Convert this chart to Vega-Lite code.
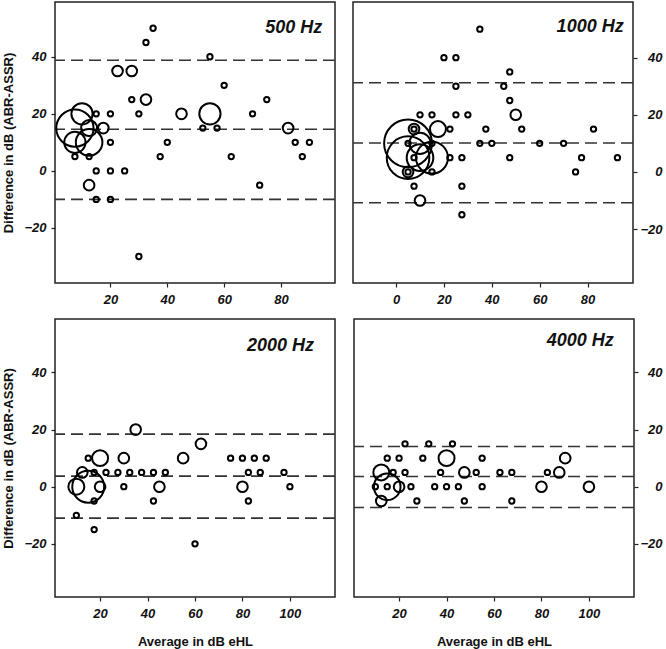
{
  "$schema": "https://vega.github.io/schema/vega-lite/v6.json",
  "padding": {"left": 2, "top": 1, "right": 2, "bottom": 2},
  "config": {
    "view": {"stroke": "#222", "strokeWidth": 1.5},
    "axis": {
      "labelFont": "Liberation Sans", "labelFontSize": 13, "labelFontWeight": "bold", "labelFontStyle": "italic", "labelColor": "#111",
      "tickColor": "#222", "tickSize": 4, "tickWidth": 1.2, "domain": false, "grid": false,
      "titleFont": "Liberation Sans", "titleFontSize": 13, "titleFontWeight": "bold", "titleColor": "#111"
    }
  },
  "datasets": {
    "pts": [
      {"p":"500","avg":35,"diff":50,"n":1},{"p":"500","avg":32.5,"diff":45,"n":1},{"p":"500","avg":55,"diff":40,"n":1},
      {"p":"500","avg":22.5,"diff":35,"n":2},{"p":"500","avg":27.5,"diff":35,"n":2},{"p":"500","avg":60,"diff":30,"n":1},
      {"p":"500","avg":27.5,"diff":25,"n":1},{"p":"500","avg":32.5,"diff":25,"n":2},{"p":"500","avg":75,"diff":25,"n":1},
      {"p":"500","avg":15,"diff":20,"n":1},{"p":"500","avg":20,"diff":20,"n":1},{"p":"500","avg":30,"diff":20,"n":1},
      {"p":"500","avg":45,"diff":20,"n":2},{"p":"500","avg":55,"diff":20,"n":4},{"p":"500","avg":70,"diff":20,"n":1},
      {"p":"500","avg":52.5,"diff":15,"n":1},{"p":"500","avg":57.5,"diff":15,"n":1},{"p":"500","avg":82.5,"diff":15,"n":2},
      {"p":"500","avg":20,"diff":10,"n":1},{"p":"500","avg":40,"diff":10,"n":1},{"p":"500","avg":85,"diff":10,"n":1},
      {"p":"500","avg":90,"diff":10,"n":1},{"p":"500","avg":7.5,"diff":5,"n":1},{"p":"500","avg":12.5,"diff":5,"n":1},
      {"p":"500","avg":37.5,"diff":5,"n":1},{"p":"500","avg":62.5,"diff":5,"n":1},{"p":"500","avg":87.5,"diff":5,"n":1},
      {"p":"500","avg":15,"diff":0,"n":1},{"p":"500","avg":20,"diff":0,"n":1},{"p":"500","avg":25,"diff":0,"n":1},
      {"p":"500","avg":12.5,"diff":-5,"n":2},{"p":"500","avg":72.5,"diff":-5,"n":1},{"p":"500","avg":15,"diff":-10,"n":1},
      {"p":"500","avg":20,"diff":-10,"n":1},{"p":"500","avg":30,"diff":-30,"n":1},
      {"p":"500","avg":7.5,"diff":15,"n":7},{"p":"500","avg":10,"diff":20,"n":4},{"p":"500","avg":7.5,"diff":10,"n":4},
      {"p":"500","avg":12.5,"diff":15,"n":3},{"p":"500","avg":12.5,"diff":10,"n":5},{"p":"500","avg":17.5,"diff":15,"n":2},

      {"p":"1000","avg":35,"diff":50,"n":1},{"p":"1000","avg":20,"diff":40,"n":1},{"p":"1000","avg":25,"diff":40,"n":1},
      {"p":"1000","avg":47.5,"diff":35,"n":1},{"p":"1000","avg":25,"diff":30,"n":1},{"p":"1000","avg":45,"diff":30,"n":1},
      {"p":"1000","avg":47.5,"diff":25,"n":1},{"p":"1000","avg":10,"diff":20,"n":1},{"p":"1000","avg":15,"diff":20,"n":1},
      {"p":"1000","avg":25,"diff":20,"n":1},{"p":"1000","avg":30,"diff":20,"n":1},{"p":"1000","avg":50,"diff":20,"n":2},
      {"p":"1000","avg":37.5,"diff":15,"n":1},{"p":"1000","avg":52.5,"diff":15,"n":1},{"p":"1000","avg":82.5,"diff":15,"n":1},
      {"p":"1000","avg":22.5,"diff":15,"n":1},{"p":"1000","avg":7.5,"diff":15,"n":1},{"p":"1000","avg":7.5,"diff":15,"n":2},
      {"p":"1000","avg":17.5,"diff":15,"n":3},{"p":"1000","avg":35,"diff":10,"n":1},{"p":"1000","avg":40,"diff":10,"n":1},
      {"p":"1000","avg":60,"diff":10,"n":1},{"p":"1000","avg":70,"diff":10,"n":1},{"p":"1000","avg":5,"diff":10,"n":1},
      {"p":"1000","avg":15,"diff":10,"n":1},{"p":"1000","avg":47.5,"diff":5,"n":1},{"p":"1000","avg":27.5,"diff":5,"n":1},
      {"p":"1000","avg":22.5,"diff":5,"n":1},{"p":"1000","avg":77.5,"diff":5,"n":1},{"p":"1000","avg":92.5,"diff":5,"n":1},
      {"p":"1000","avg":7.5,"diff":5,"n":1},{"p":"1000","avg":75,"diff":0,"n":1},{"p":"1000","avg":5,"diff":0,"n":1},
      {"p":"1000","avg":5,"diff":0,"n":2},{"p":"1000","avg":15,"diff":0,"n":1},{"p":"1000","avg":7.5,"diff":-5,"n":1},
      {"p":"1000","avg":27.5,"diff":-5,"n":1},{"p":"1000","avg":10,"diff":-10,"n":2},{"p":"1000","avg":27.5,"diff":-15,"n":1},
      {"p":"1000","avg":5,"diff":10,"n":9},{"p":"1000","avg":5,"diff":5,"n":8},{"p":"1000","avg":15,"diff":5,"n":6},
      {"p":"1000","avg":10,"diff":5,"n":5},{"p":"1000","avg":10,"diff":10,"n":4},

      {"p":"2000","avg":35,"diff":20,"n":2},{"p":"2000","avg":62.5,"diff":15,"n":2},{"p":"2000","avg":20,"diff":10,"n":3},
      {"p":"2000","avg":30,"diff":10,"n":2},{"p":"2000","avg":55,"diff":10,"n":2},{"p":"2000","avg":15,"diff":10,"n":1},
      {"p":"2000","avg":75,"diff":10,"n":1},{"p":"2000","avg":80,"diff":10,"n":1},{"p":"2000","avg":85,"diff":10,"n":1},
      {"p":"2000","avg":90,"diff":10,"n":1},{"p":"2000","avg":12.5,"diff":5,"n":2},{"p":"2000","avg":17.5,"diff":5,"n":1},
      {"p":"2000","avg":22.5,"diff":5,"n":1},{"p":"2000","avg":27.5,"diff":5,"n":1},{"p":"2000","avg":32.5,"diff":5,"n":1},
      {"p":"2000","avg":37.5,"diff":5,"n":1},{"p":"2000","avg":42.5,"diff":5,"n":1},{"p":"2000","avg":47.5,"diff":5,"n":1},
      {"p":"2000","avg":82.5,"diff":5,"n":1},{"p":"2000","avg":87.5,"diff":5,"n":1},{"p":"2000","avg":97.5,"diff":5,"n":1},
      {"p":"2000","avg":10,"diff":0,"n":3},{"p":"2000","avg":15,"diff":0,"n":6},{"p":"2000","avg":20,"diff":0,"n":2},
      {"p":"2000","avg":30,"diff":0,"n":1},{"p":"2000","avg":45,"diff":0,"n":2},{"p":"2000","avg":80,"diff":0,"n":2},
      {"p":"2000","avg":100,"diff":0,"n":1},{"p":"2000","avg":17.5,"diff":-5,"n":1},{"p":"2000","avg":42.5,"diff":-5,"n":1},
      {"p":"2000","avg":82.5,"diff":-5,"n":1},{"p":"2000","avg":10,"diff":-10,"n":1},{"p":"2000","avg":17.5,"diff":-15,"n":1},
      {"p":"2000","avg":60,"diff":-20,"n":1},

      {"p":"4000","avg":22.5,"diff":15,"n":1},{"p":"4000","avg":32.5,"diff":15,"n":1},{"p":"4000","avg":42.5,"diff":15,"n":1},
      {"p":"4000","avg":15,"diff":10,"n":1},{"p":"4000","avg":20,"diff":10,"n":1},{"p":"4000","avg":30,"diff":10,"n":1},
      {"p":"4000","avg":40,"diff":10,"n":3},{"p":"4000","avg":55,"diff":10,"n":1},{"p":"4000","avg":90,"diff":10,"n":2},
      {"p":"4000","avg":12.5,"diff":5,"n":3},{"p":"4000","avg":17.5,"diff":5,"n":1},{"p":"4000","avg":22.5,"diff":5,"n":1},
      {"p":"4000","avg":37.5,"diff":5,"n":1},{"p":"4000","avg":47.5,"diff":5,"n":2},{"p":"4000","avg":52.5,"diff":5,"n":1},
      {"p":"4000","avg":62.5,"diff":5,"n":1},{"p":"4000","avg":67.5,"diff":5,"n":1},{"p":"4000","avg":82.5,"diff":5,"n":1},
      {"p":"4000","avg":87.5,"diff":5,"n":2},{"p":"4000","avg":10,"diff":0,"n":1},{"p":"4000","avg":15,"diff":0,"n":5},
      {"p":"4000","avg":15,"diff":0,"n":1},{"p":"4000","avg":20,"diff":0,"n":2},{"p":"4000","avg":25,"diff":0,"n":1},
      {"p":"4000","avg":35,"diff":0,"n":1},{"p":"4000","avg":40,"diff":0,"n":1},{"p":"4000","avg":45,"diff":0,"n":1},
      {"p":"4000","avg":55,"diff":0,"n":1},{"p":"4000","avg":80,"diff":0,"n":2},{"p":"4000","avg":100,"diff":0,"n":2},
      {"p":"4000","avg":12.5,"diff":-5,"n":2},{"p":"4000","avg":27.5,"diff":-5,"n":1},{"p":"4000","avg":47.5,"diff":-5,"n":1},
      {"p":"4000","avg":67.5,"diff":-5,"n":1}
    ],
    "lims": [
      {"p":"500","diff":38.8},{"p":"500","diff":14.6},{"p":"500","diff":-10},
      {"p":"1000","diff":31.2},{"p":"1000","diff":10.1},{"p":"1000","diff":-10.8},
      {"p":"2000","diff":18.4},{"p":"2000","diff":3.7},{"p":"2000","diff":-11},
      {"p":"4000","diff":14.1},{"p":"4000","diff":3.6},{"p":"4000","diff":-7.3}
    ]
  },
  "spacing": 11,
  "vconcat": [
    {
      "spacing": 14,
      "hconcat": [
        {
          "width": 280, "height": 281,
          "layer": [
            {
              "data": {"name": "lims"},
              "transform": [{"filter": "datum.p == '500'"}],
              "mark": {"type": "rule", "color": "#333", "strokeWidth": 1.6, "strokeDash": [12, 6]},
              "encoding": {
                "y": {"field": "diff", "type": "quantitative", "scale": {"domain": [-39.3, 59.2], "nice": false, "zero": false},
                      "axis": {"orient": "left", "values": [-20, 0, 20, 40], "title": "Difference in dB (ABR-ASSR)", "labelPadding": 5, "titlePadding": 8}}
              }
            },
            {
              "data": {"name": "pts"},
              "transform": [{"filter": "datum.p == '500'"}],
              "mark": {"type": "point", "shape": "circle", "filled": false, "color": "#000", "opacity": 1, "strokeWidth": 2},
              "encoding": {
                "x": {"field": "avg", "type": "quantitative", "scale": {"domain": [0.5, 99], "nice": false, "zero": false},
                      "axis": {"values": [20, 40, 60, 80], "title": null, "labelPadding": 6}},
                "y": {"field": "diff", "type": "quantitative"},
                "size": {"field": "n", "type": "quantitative", "scale": {"type": "pow", "exponent": 2, "domain": [0, 10], "range": [0, 2830]}, "legend": null}
              }
            },
            {
              "data": {"values": [{"label": "500 Hz"}]},
              "mark": {"type": "text", "align": "right", "baseline": "alphabetic", "font": "Liberation Sans", "fontSize": 18, "fontWeight": "bold", "fontStyle": "italic", "color": "#111"},
              "encoding": {"text": {"field": "label"}, "x": {"datum": 94.5, "type": "quantitative"}, "y": {"datum": 48.3, "type": "quantitative"}}
            }
          ]
        },
        {
          "width": 280, "height": 281,
          "layer": [
            {
              "data": {"name": "lims"},
              "transform": [{"filter": "datum.p == '1000'"}],
              "mark": {"type": "rule", "color": "#333", "strokeWidth": 1.6, "strokeDash": [12, 6]},
              "encoding": {
                "y": {"field": "diff", "type": "quantitative", "scale": {"domain": [-38.9, 59.5], "nice": false, "zero": false},
                      "axis": {"orient": "right", "values": [-20, 0, 20, 40], "title": null, "labelAlign": "right", "labelPadding": 25}}
              }
            },
            {
              "data": {"name": "pts"},
              "transform": [{"filter": "datum.p == '1000'"}],
              "mark": {"type": "point", "shape": "circle", "filled": false, "color": "#000", "opacity": 1, "strokeWidth": 2},
              "encoding": {
                "x": {"field": "avg", "type": "quantitative", "scale": {"domain": [-18, 99], "nice": false, "zero": false},
                      "axis": {"values": [0, 20, 40, 60, 80], "title": null, "labelPadding": 6}},
                "y": {"field": "diff", "type": "quantitative"},
                "size": {"field": "n", "type": "quantitative", "scale": {"type": "pow", "exponent": 2, "domain": [0, 10], "range": [0, 2830]}, "legend": null}
              }
            },
            {
              "data": {"values": [{"label": "1000 Hz"}]},
              "mark": {"type": "text", "align": "right", "baseline": "alphabetic", "font": "Liberation Sans", "fontSize": 18, "fontWeight": "bold", "fontStyle": "italic", "color": "#111"},
              "encoding": {"text": {"field": "label"}, "x": {"datum": 95.1, "type": "quantitative"}, "y": {"datum": 49, "type": "quantitative"}}
            }
          ]
        }
      ]
    },
    {
      "spacing": 15,
      "hconcat": [
        {
          "width": 280, "height": 278,
          "layer": [
            {
              "data": {"name": "lims"},
              "transform": [{"filter": "datum.p == '2000'"}],
              "mark": {"type": "rule", "color": "#333", "strokeWidth": 1.6, "strokeDash": [12, 6]},
              "encoding": {
                "y": {"field": "diff", "type": "quantitative", "scale": {"domain": [-38.6, 58.7], "nice": false, "zero": false},
                      "axis": {"orient": "left", "values": [-20, 0, 20, 40], "title": "Difference in dB (ABR-ASSR)", "labelPadding": 5, "titlePadding": 8}}
              }
            },
            {
              "data": {"name": "pts"},
              "transform": [{"filter": "datum.p == '2000'"}],
              "mark": {"type": "point", "shape": "circle", "filled": false, "color": "#000", "opacity": 1, "strokeWidth": 2},
              "encoding": {
                "x": {"field": "avg", "type": "quantitative", "scale": {"domain": [1, 119], "nice": false, "zero": false},
                      "axis": {"values": [20, 40, 60, 80, 100], "title": "Average in dB eHL", "labelPadding": 6, "titlePadding": 15}},
                "y": {"field": "diff", "type": "quantitative"},
                "size": {"field": "n", "type": "quantitative", "scale": {"type": "pow", "exponent": 2, "domain": [0, 10], "range": [0, 2830]}, "legend": null}
              }
            },
            {
              "data": {"values": [{"label": "2000 Hz"}]},
              "mark": {"type": "text", "align": "right", "baseline": "alphabetic", "font": "Liberation Sans", "fontSize": 18, "fontWeight": "bold", "fontStyle": "italic", "color": "#111"},
              "encoding": {"text": {"field": "label"}, "x": {"datum": 110.2, "type": "quantitative"}, "y": {"datum": 47.6, "type": "quantitative"}}
            }
          ]
        },
        {
          "width": 280, "height": 278,
          "layer": [
            {
              "data": {"name": "lims"},
              "transform": [{"filter": "datum.p == '4000'"}],
              "mark": {"type": "rule", "color": "#333", "strokeWidth": 1.6, "strokeDash": [12, 6]},
              "encoding": {
                "y": {"field": "diff", "type": "quantitative", "scale": {"domain": [-38.6, 58.7], "nice": false, "zero": false},
                      "axis": {"orient": "right", "values": [-20, 0, 20, 40], "title": null, "labelAlign": "right", "labelPadding": 24}}
              }
            },
            {
              "data": {"name": "pts"},
              "transform": [{"filter": "datum.p == '4000'"}],
              "mark": {"type": "point", "shape": "circle", "filled": false, "color": "#000", "opacity": 1, "strokeWidth": 2},
              "encoding": {
                "x": {"field": "avg", "type": "quantitative", "scale": {"domain": [1, 119], "nice": false, "zero": false},
                      "axis": {"values": [20, 40, 60, 80, 100], "title": "Average in dB eHL", "labelPadding": 6, "titlePadding": 15}},
                "y": {"field": "diff", "type": "quantitative"},
                "size": {"field": "n", "type": "quantitative", "scale": {"type": "pow", "exponent": 2, "domain": [0, 10], "range": [0, 2830]}, "legend": null}
              }
            },
            {
              "data": {"values": [{"label": "4000 Hz"}]},
              "mark": {"type": "text", "align": "right", "baseline": "alphabetic", "font": "Liberation Sans", "fontSize": 18, "fontWeight": "bold", "fontStyle": "italic", "color": "#111"},
              "encoding": {"text": {"field": "label"}, "x": {"datum": 110.5, "type": "quantitative"}, "y": {"datum": 49.2, "type": "quantitative"}}
            }
          ]
        }
      ]
    }
  ]
}
